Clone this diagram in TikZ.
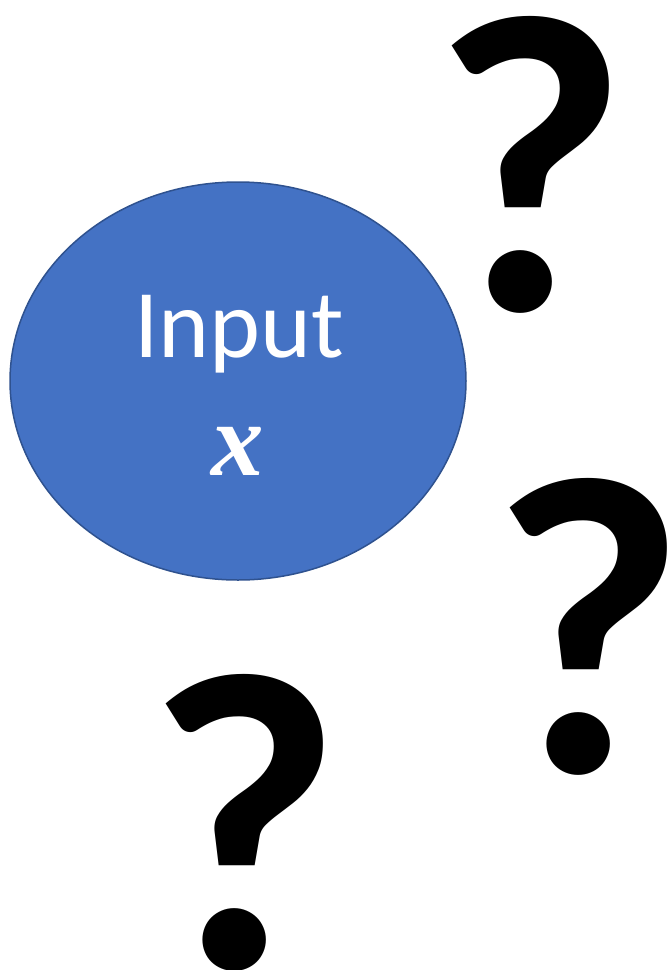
\documentclass[tikz,border=0pt]{standalone}
\usepackage{fontspec}
\setmainfont{Carlito}
\newfontfamily\varfont{Liberation Serif}
\definecolor{inblue}{HTML}{4472C4}
\definecolor{inedge}{HTML}{2F528F}
\begin{document}
\begin{tikzpicture}[x=1pt,y=-1pt,
  qmark/.style={anchor=base,inner sep=0pt,font=\fontsize{426}{426}\selectfont\bfseries},
  label/.style={anchor=base,inner sep=0pt,text=white}]
\useasboundingbox (0,0) rectangle (671,970);
% input ellipse
\draw[fill=inblue,draw=inedge,line width=1.5pt] (238,381) ellipse [x radius=228, y radius=199];
\node[label,font=\fontsize{97}{97}\selectfont] (inp) at (239,357) {Input};
\node[label,font=\fontsize{105}{105}\selectfont\varfont\bfseries\itshape] (var) at (238,475) {x};
% question marks
\node[qmark] (q1) at (530,310) {?};
\node[qmark] (q2) at (588,772) {?};
\node[qmark] (q3) at (244,968) {?};
\end{tikzpicture}
\end{document}
